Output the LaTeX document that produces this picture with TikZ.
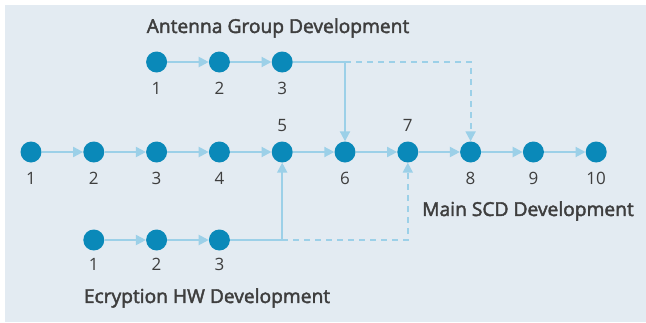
\documentclass[tikz,border=0pt]{standalone}
\usepackage{fontspec}
\setmainfont{Open Sans}
\IfFontExistsTF{Open Sans SemiBold}
  {\newfontfamily\titlefont{Open Sans SemiBold}\def\titlesize{18.6}}
  {\newfontfamily\titlefont[FakeBold=2.2]{Open Sans}\def\titlesize{19.2}}
\usepackage{xcolor}
\usepackage{tikz}
\usetikzlibrary{arrows.meta}
\usetikzlibrary{positioning}
\definecolor{panel}{HTML}{E3EBF2}
\definecolor{stepfill}{HTML}{0A89B9}
\definecolor{deparrow}{HTML}{9CD0E8}
\definecolor{labeltext}{HTML}{3E3E3E}

\begin{document}
\begin{tikzpicture}[
  x=1pt,y=-1pt,
  dep/.style ={
    -{Triangle[length=10pt,width=10pt]},line width=2pt,draw=deparrow
  },
  dotdep/.style ={
    dep,dash pattern=on 6pt off 5pt
  },
  milestone/.style={
    circle,
    minimum size=21pt,
    inner sep=0pt,
    fill=stepfill},
  num/.style={
    text=labeltext,
    font=\fontsize{17}{20}\selectfont},
  title/.style={
    text=labeltext,
    font=\titlefont\fontsize{\titlesize}{22}\selectfont},
]

  \def\stepsize{62.8}%
  \def\lvlbase{152}%

  \useasboundingbox (0,0) rectangle (646,322);
  \fill[white] (0,0) rectangle (646,322);
  \fill[panel] (5,5) rectangle (646,322);

    % Main SCD milestones
  \foreach \step in {1,...,10} {
    \node[milestone] (m\step) at (31+\stepsize*\step-\stepsize, \lvlbase) {};
   }
  \foreach \step in {1,2,3,4,6,8,9,10} {
    \node[num,below=6pt of m\step] (ml\step) {\step};
   }
  \foreach \step in {5,7} {
    \node[num,above=6pt of m\step] (ml\step) {\step};
   }
  \foreach \start [count=\stop from 2] in {1,...,9} {
    \draw[dep] (m\start) -- (m\stop);
   }

    % Antenna group branch
  \foreach \step [count=\i from 3] in {1,...,3} {
    \node[milestone] (a\step) at (m\i |- 0,62) {};
    \node[num,below=6pt of a\step] (al\step) {\step};
   }
  \foreach \start [count=\stop from 2] in {1,...,2} {
    \draw[dep] (a\start) -- (a\stop);
   }

    % Encryption hardware branch
  \foreach \step [count=\i from 2] in {1,...,3} {
    \node[milestone] (e\step) at (m\i |- 0,240) {};
    \node[num,below=4pt of e\step] (el\step) {\step};
   }
  \foreach \start [count=\stop from 2] in {1,...,2} {
    \draw[dep] (e\start) -- (e\stop);
   }

    % Joins into the main line
  \coordinate (aj) at (m6 |- a3);
  \coordinate (ej) at (m5 |- e3);
  \draw[dotdep] (aj) -| (m8);
  \draw[dotdep] (ej) -| (m7);
  \draw[dep] (a3) -| (m6);
  \draw[dep] (e3) -| (m5);

  \node[title] (atitle) at (278,28) {Antenna Group Development};
  \node[title] (mtitle) at (528,211) {Main SCD Development};
  \node[title] (etitle) at (207,298) {Ecryption HW Development};

\end{tikzpicture}
\end{document}
